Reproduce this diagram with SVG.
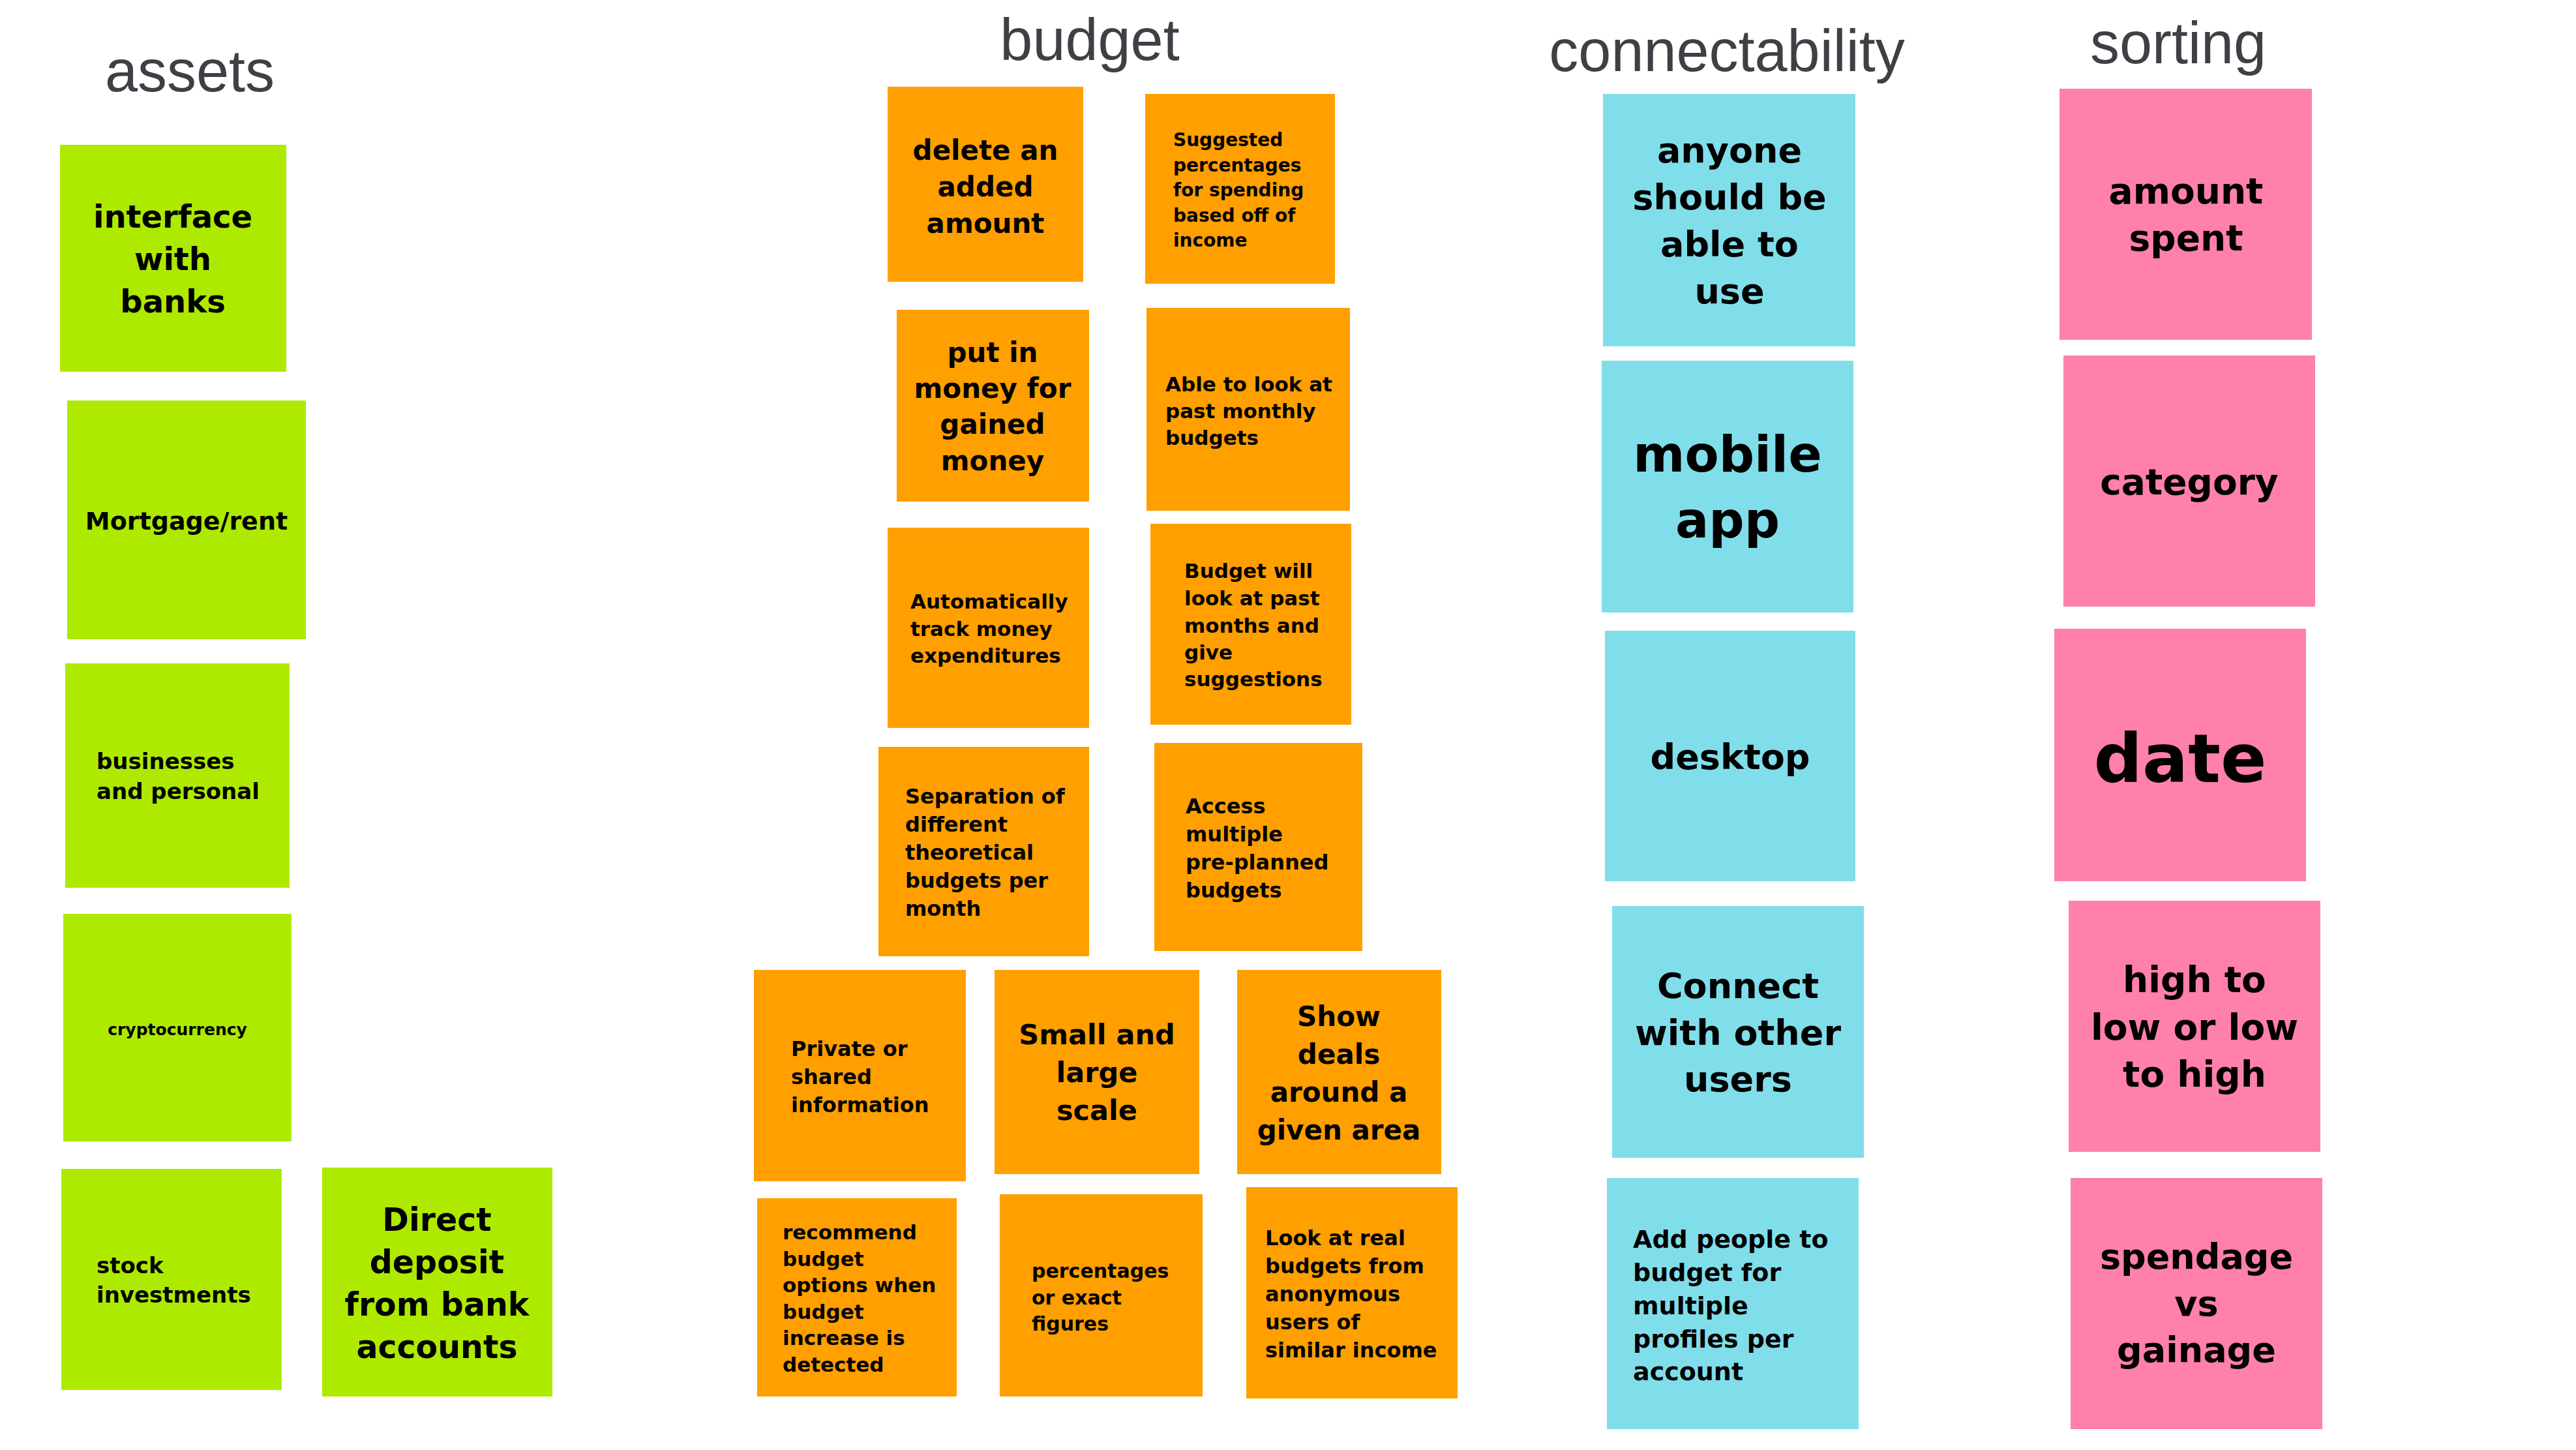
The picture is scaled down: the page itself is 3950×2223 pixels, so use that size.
<svg xmlns="http://www.w3.org/2000/svg" width="3950" height="2223" viewBox="0 0 3950 2223">
  <style>
    .bg { fill: #ffffff; }
    .title { font-family: "Liberation Sans", Arial, sans-serif; font-size: 90px; fill: #3d4045; }
    .lime { fill: #aeea00; }
    .amber { fill: #ff9f00; }
    .cyan { fill: #80deea; }
    .pink { fill: #ff80ab; }
    .t { font-family: "DejaVu Sans", "Noto Sans", sans-serif; font-weight: bold; fill: #000000; }
    .c { text-anchor: middle; }
  </style>
  <rect class="bg" x="0" y="0" width="3950" height="2223"/>

  <!-- column headings -->
  <g id="headings">
    <text class="title" x="291" y="140" text-anchor="middle">assets</text>
    <text class="title" x="1671" y="92" text-anchor="middle">budget</text>
    <text class="title" x="2648" y="109" text-anchor="middle">connectability</text>
    <text class="title" x="3340" y="97" text-anchor="middle">sorting</text>
  </g>

  <g id="connectors"></g>

  <!-- assets -->
  <g id="interface-with-banks">
    <rect class="lime" x="92" y="222" width="347" height="348"/>
    <text class="t c" font-size="48"><tspan x="265" y="349">interface</tspan><tspan x="265" y="414">with</tspan><tspan x="265" y="479">banks</tspan></text>
  </g>
  <g id="mortgage-rent">
    <rect class="lime" x="103" y="614" width="366" height="366"/>
    <text class="t c" font-size="38" x="286" y="812">Mortgage/rent</text>
  </g>
  <g id="businesses-personal">
    <rect class="lime" x="100" y="1017" width="344" height="344"/>
    <text class="t" font-size="34"><tspan x="148" y="1179">businesses</tspan><tspan x="148" y="1225">and personal</tspan></text>
  </g>
  <g id="cryptocurrency">
    <rect class="lime" x="97" y="1401" width="350" height="349"/>
    <text class="t c" font-size="25" x="272" y="1587">cryptocurrency</text>
  </g>
  <g id="stock-investments">
    <rect class="lime" x="94" y="1792" width="338" height="339"/>
    <text class="t" font-size="34"><tspan x="148" y="1952">stock</tspan><tspan x="148" y="1997">investments</tspan></text>
  </g>
  <g id="direct-deposit">
    <rect class="lime" x="494" y="1790" width="353" height="351"/>
    <text class="t c" font-size="49"><tspan x="670" y="1887">Direct</tspan><tspan x="670" y="1952">deposit</tspan><tspan x="670" y="2017">from bank</tspan><tspan x="670" y="2082">accounts</tspan></text>
  </g>

  <!-- budget -->
  <g id="delete-added-amount">
    <rect class="amber" x="1361" y="133" width="300" height="299"/>
    <text class="t c" font-size="42"><tspan x="1511" y="245">delete an</tspan><tspan x="1511" y="301">added</tspan><tspan x="1511" y="357">amount</tspan></text>
  </g>
  <g id="suggested-percentages">
    <rect class="amber" x="1756" y="144" width="291" height="291"/>
    <text class="t" font-size="28"><tspan x="1799" y="224">Suggested</tspan><tspan x="1799" y="263">percentages</tspan><tspan x="1799" y="301">for spending</tspan><tspan x="1799" y="340">based off of</tspan><tspan x="1799" y="378">income</tspan></text>
  </g>
  <g id="put-in-money">
    <rect class="amber" x="1375" y="475" width="295" height="294"/>
    <text class="t c" font-size="42"><tspan x="1522" y="555">put in</tspan><tspan x="1522" y="610">money for</tspan><tspan x="1522" y="665">gained</tspan><tspan x="1522" y="721">money</tspan></text>
  </g>
  <g id="past-monthly-budgets">
    <rect class="amber" x="1758" y="472" width="312" height="311"/>
    <text class="t" font-size="31"><tspan x="1787" y="600">Able to look at</tspan><tspan x="1787" y="641">past monthly</tspan><tspan x="1787" y="682">budgets</tspan></text>
  </g>
  <g id="track-expenditures">
    <rect class="amber" x="1361" y="809" width="309" height="307"/>
    <text class="t" font-size="31"><tspan x="1396" y="933">Automatically</tspan><tspan x="1396" y="975">track money</tspan><tspan x="1396" y="1016">expenditures</tspan></text>
  </g>
  <g id="budget-suggestions">
    <rect class="amber" x="1764" y="803" width="308" height="308"/>
    <text class="t" font-size="31"><tspan x="1816" y="886">Budget will</tspan><tspan x="1816" y="928">look at past</tspan><tspan x="1816" y="970">months and</tspan><tspan x="1816" y="1011">give</tspan><tspan x="1816" y="1052">suggestions</tspan></text>
  </g>
  <g id="separation-budgets">
    <rect class="amber" x="1347" y="1145" width="323" height="321"/>
    <text class="t" font-size="32"><tspan x="1388" y="1232">Separation of</tspan><tspan x="1388" y="1275">different</tspan><tspan x="1388" y="1318">theoretical</tspan><tspan x="1388" y="1361">budgets per</tspan><tspan x="1388" y="1404">month</tspan></text>
  </g>
  <g id="access-preplanned">
    <rect class="amber" x="1770" y="1139" width="319" height="319"/>
    <text class="t" font-size="32"><tspan x="1818" y="1247">Access</tspan><tspan x="1818" y="1290">multiple</tspan><tspan x="1818" y="1333">pre-planned</tspan><tspan x="1818" y="1376">budgets</tspan></text>
  </g>
  <g id="private-shared">
    <rect class="amber" x="1156" y="1487" width="325" height="324"/>
    <text class="t" font-size="32"><tspan x="1213" y="1619">Private or</tspan><tspan x="1213" y="1662">shared</tspan><tspan x="1213" y="1705">information</tspan></text>
  </g>
  <g id="small-large-scale">
    <rect class="amber" x="1525" y="1487" width="314" height="313"/>
    <text class="t c" font-size="43"><tspan x="1682" y="1601">Small and</tspan><tspan x="1682" y="1659">large</tspan><tspan x="1682" y="1717">scale</tspan></text>
  </g>
  <g id="show-deals">
    <rect class="amber" x="1897" y="1487" width="313" height="313"/>
    <text class="t c" font-size="42"><tspan x="2053" y="1573">Show</tspan><tspan x="2053" y="1631">deals</tspan><tspan x="2053" y="1689">around a</tspan><tspan x="2053" y="1747">given area</tspan></text>
  </g>
  <g id="recommend-options">
    <rect class="amber" x="1161" y="1837" width="306" height="304"/>
    <text class="t" font-size="31"><tspan x="1200" y="1900">recommend</tspan><tspan x="1200" y="1941">budget</tspan><tspan x="1200" y="1981">options when</tspan><tspan x="1200" y="2022">budget</tspan><tspan x="1200" y="2062">increase is</tspan><tspan x="1200" y="2103">detected</tspan></text>
  </g>
  <g id="percentages-figures">
    <rect class="amber" x="1533" y="1831" width="311" height="310"/>
    <text class="t" font-size="30"><tspan x="1582" y="1959">percentages</tspan><tspan x="1582" y="2000">or exact</tspan><tspan x="1582" y="2040">figures</tspan></text>
  </g>
  <g id="real-budgets">
    <rect class="amber" x="1911" y="1820" width="324" height="324"/>
    <text class="t" font-size="32"><tspan x="1940" y="1909">Look at real</tspan><tspan x="1940" y="1952">budgets from</tspan><tspan x="1940" y="1995">anonymous</tspan><tspan x="1940" y="2038">users of</tspan><tspan x="1940" y="2081">similar income</tspan></text>
  </g>

  <!-- connectability -->
  <g id="anyone-use">
    <rect class="cyan" x="2458" y="144" width="387" height="387"/>
    <text class="t c" font-size="54"><tspan x="2652" y="249">anyone</tspan><tspan x="2652" y="321">should be</tspan><tspan x="2652" y="393">able to</tspan><tspan x="2652" y="465">use</tspan></text>
  </g>
  <g id="mobile-app">
    <rect class="cyan" x="2456" y="553" width="386" height="386"/>
    <text class="t c" font-size="76"><tspan x="2649" y="723">mobile</tspan><tspan x="2649" y="824">app</tspan></text>
  </g>
  <g id="desktop">
    <rect class="cyan" x="2461" y="967" width="384" height="384"/>
    <text class="t c" font-size="54" x="2653" y="1179">desktop</text>
  </g>
  <g id="connect-users">
    <rect class="cyan" x="2472" y="1389" width="386" height="386"/>
    <text class="t c" font-size="54"><tspan x="2665" y="1530">Connect</tspan><tspan x="2665" y="1602">with other</tspan><tspan x="2665" y="1673">users</tspan></text>
  </g>
  <g id="add-people">
    <rect class="cyan" x="2464" y="1806" width="386" height="385"/>
    <text class="t" font-size="38"><tspan x="2504" y="1913">Add people to</tspan><tspan x="2504" y="1964">budget for</tspan><tspan x="2504" y="2015">multiple</tspan><tspan x="2504" y="2066">profiles per</tspan><tspan x="2504" y="2116">account</tspan></text>
  </g>

  <!-- sorting -->
  <g id="amount-spent">
    <rect class="pink" x="3158" y="136" width="387" height="385"/>
    <text class="t c" font-size="55"><tspan x="3352" y="312">amount</tspan><tspan x="3352" y="384">spent</tspan></text>
  </g>
  <g id="category">
    <rect class="pink" x="3164" y="545" width="386" height="385"/>
    <text class="t c" font-size="55" x="3357" y="758">category</text>
  </g>
  <g id="date">
    <rect class="pink" x="3150" y="964" width="386" height="387"/>
    <text class="t c" font-size="104" x="3343" y="1199">date</text>
  </g>
  <g id="high-low">
    <rect class="pink" x="3172" y="1381" width="386" height="385"/>
    <text class="t c" font-size="55"><tspan x="3365" y="1521">high to</tspan><tspan x="3365" y="1594">low or low</tspan><tspan x="3365" y="1666">to high</tspan></text>
  </g>
  <g id="spendage-gainage">
    <rect class="pink" x="3175" y="1806" width="386" height="385"/>
    <text class="t c" font-size="54"><tspan x="3368" y="1945">spendage</tspan><tspan x="3368" y="2017">vs</tspan><tspan x="3368" y="2088">gainage</tspan></text>
  </g>
</svg>
